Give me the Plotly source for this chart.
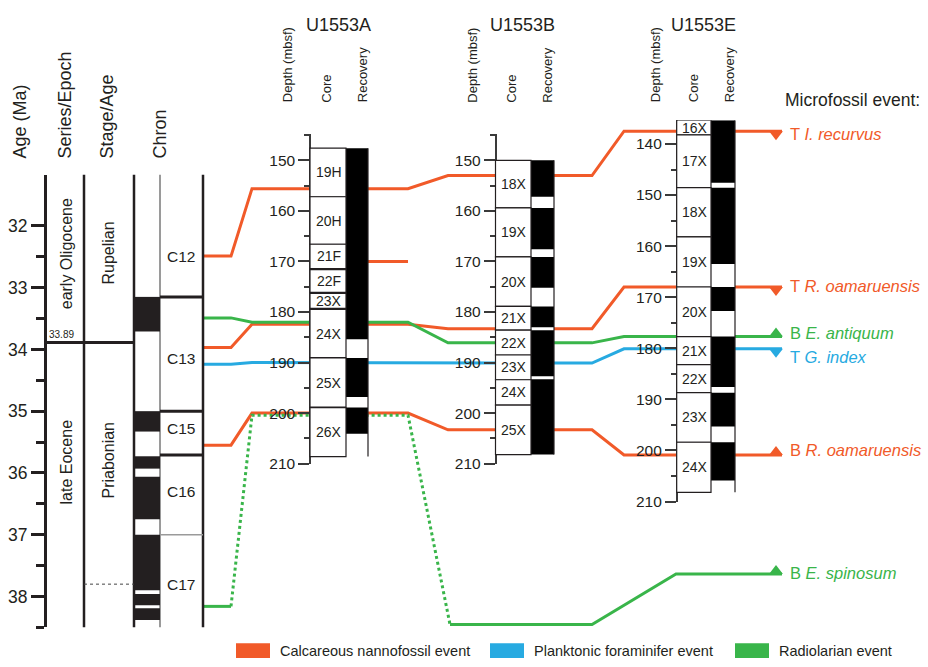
import plotly.graph_objects as go

W, H = 928, 667
FONT = "Liberation Sans, Arial, Helvetica, sans-serif"
INK = "#231F20"

# ---------------- data ----------------
AGE_TICKS = [32, 33, 34, 35, 36, 37, 38]
AGE_MINOR = [32.5, 33.5, 34.5, 35.5, 36.5, 37.5, 38.5]
AGE_TOP, AGE_BASE = 31.17, 38.5

EPOCHS = ["early Oligocene", "late Eocene"]
EPOCH_LABEL_AGE = [32.46, 35.83]
STAGES = ["Rupelian", "Priabonian"]
STAGE_LABEL_AGE = [32.44, 35.79]
EPOCH_BOUNDARY = 33.89
STAGE_SUBDIVISION = 37.8

NORMAL_TOP = [33.15, 35.00, 35.73, 36.06, 37.00, 37.96, 38.19]
NORMAL_BASE = [33.71, 35.33, 35.93, 36.75, 37.90, 38.14, 38.38]

CHRONS = ["C12", "C13", "C15", "C16", "C17"]
CHRON_LABEL_AGE = [32.49, 34.15, 35.28, 36.30, 37.80]
CHRON_BOUNDARIES = [33.15, 35.00, 35.71, 37.00]

HOLES = ["U1553A", "U1553B", "U1553E"]
DEPTH_TOP = {"U1553A": 144.8, "U1553B": 144.8, "U1553E": 135.35}
DEPTH_BASE = 210.0

CORES = {
    "U1553A": ["19H", "20H", "21F", "22F", "23X", "24X", "25X", "26X"],
    "U1553B": ["18X", "19X", "20X", "21X", "22X", "23X", "24X", "25X"],
    "U1553E": ["16X", "17X", "18X", "19X", "20X", "21X", "22X", "23X", "24X"],
}
CORE_TOP = {
    "U1553A": [147.6, 157.2, 166.6, 171.6, 176.3, 179.5, 189.1, 198.9],
    "U1553B": [150.0, 159.4, 169.1, 178.9, 183.6, 188.5, 193.4, 198.4],
    "U1553E": [135.35, 138.2, 148.56, 158.2, 168.0, 177.7, 183.2, 188.7, 198.4],
}
CORE_BASE = {
    "U1553A": [157.2, 166.6, 171.4, 176.1, 179.3, 189.0, 198.8, 208.6],
    "U1553B": [159.4, 169.1, 178.9, 183.6, 188.5, 193.4, 198.4, 208.2],
    "U1553E": [138.2, 148.56, 158.2, 168.0, 177.7, 183.2, 188.7, 198.4, 208.2],
}
RECOVERY_TOP = {
    "U1553A": [147.6, 189.1, 198.9],
    "U1553B": [150.0, 159.4, 169.1, 178.9, 183.6, 193.3],
    "U1553E": [135.35, 148.56, 168.0, 177.7, 188.7, 198.4],
}
RECOVERY_BASE = {
    "U1553A": [185.4, 196.8, 204.1],
    "U1553B": [157.2, 167.6, 175.2, 183.0, 192.7, 208.2],
    "U1553E": [147.6, 163.5, 172.7, 187.6, 195.3, 205.9],
}

EVENTS = ["T <i>I. recurvus</i>", "T <i>R. oamaruensis</i>", "B <i>E. antiquum</i>",
          "T <i>G. index</i>", "B <i>R. oamaruensis</i>", "B <i>E. spinosum</i>"]
EVENT_GROUP = ["nanno", "nanno", "rad", "foram", "nanno", "rad"]
EVENT_KIND = ["T", "T", "B", "T", "B", "B"]
EVENT_AGE = [32.49, 33.97, 33.49, 34.24, 35.55, 38.16]
EVENT_DEPTH_A = [155.6, 182.4, 182.0, 190.0, 200.0, 200.4]
EVENT_DEPTH_B = [153.0, 183.3, 186.1, 190.1, 203.3, 241.8]
EVENT_DEPTH_E = [137.5, 168.0, 177.7, 180.1, 200.9, 224.2]
A_EXTRA_NANNO_DEPTH = 170.0

GROUPS = ["nanno", "foram", "rad"]
GROUP_NAMES = {"nanno": "Calcareous nannofossil event",
               "foram": "Planktonic foraminifer event",
               "rad": "Radiolarian event"}

# ---------------- styling / layout geometry (pixels) ----------------
GROUP_COLORS = {"nanno": "#F15A29", "foram": "#27AAE1", "rad": "#39B54A"}
AGE_PX = (176.7, 635.0)
AGE_AXIS_X = 45
EPOCH_COL = (45, 84)
STAGE_COL = (84, 134)
POL_COL = (134, 160)
CHRON_COL = (160, 203)

HOLE_GEOM = {
    "U1553A": dict(px=(135.7, 469.3), core=(310, 346), rec=(346, 368),
                   title_x=338, head_x=(287, 327, 362), yaxis="y3"),
    "U1553B": dict(px=(135.7, 469.3), core=(495.5, 531), rec=(531, 554),
                   title_x=522.5, head_x=(472.5, 512, 547.5), yaxis="y4"),
    "U1553E": dict(px=(121.7, 507.6), core=(676.7, 711), rec=(711, 735),
                   title_x=703, head_x=(655, 693.5, 729), yaxis="y5"),
}
LINE_X = [203, 231, 252, 408, 448, 592, 624, 782]
SPINOSUM_X = [203, 231, 252, 408, 450, 592, 676, 782]
LABEL_DY = [2.5, -1.5, -3.5, 8.5, -5.5, -1.5]
MARKER_X = 776


def lin(v, v0, v1, p0, p1):
    return p0 + (v - v0) * (p1 - p0) / (v1 - v0)


def age_px(a):
    return lin(a, AGE_TOP, AGE_BASE, *AGE_PX)


def depth_px(hole, d):
    return lin(d, DEPTH_TOP[hole], DEPTH_BASE, *HOLE_GEOM[hole]["px"])


def domain(px):
    return [1 - px[1] / H, 1 - px[0] / H]


fig = go.Figure()
shapes = []
ann = []

# ---- correlation lines (pixel overlay subplot x/y) ----
for i, name in enumerate(EVENTS):
    col = GROUP_COLORS[EVENT_GROUP[i]]
    ys = [age_px(EVENT_AGE[i])] * 2 + \
         [depth_px("U1553A", EVENT_DEPTH_A[i])] * 2 + \
         [depth_px("U1553B", EVENT_DEPTH_B[i])] * 2 + \
         [depth_px("U1553E", EVENT_DEPTH_E[i])] * 2
    if i == 5:
        xs = SPINOSUM_X
        parts = [((0, 2), "solid"), ((1, 5), "dot"), ((4, 8), "solid")]
    else:
        xs = LINE_X
        parts = [((0, 8), "solid")]
    for (a, b), dash in parts:
        fig.add_trace(go.Scatter(x=xs[a:b], y=ys[a:b], mode="lines",
                                 line=dict(color=col, width=3, dash=dash),
                                 hoverinfo="skip", showlegend=False))
    yl = ys[-1]
    my = yl + 3 if EVENT_KIND[i] == "T" else yl - 3
    sym = "triangle-down" if EVENT_KIND[i] == "T" else "triangle-up"
    fig.add_trace(go.Scatter(x=[MARKER_X], y=[my], mode="markers",
                             marker=dict(symbol=sym, size=12, color=col, line=dict(width=0)),
                             hoverinfo="skip", showlegend=False))
    ann.append(dict(x=788, y=yl + LABEL_DY[i], xref="x", yref="y", text=name,
                    showarrow=False, xanchor="left", yanchor="middle",
                    font=dict(family=FONT, size=16.5, color=col)))

ya = depth_px("U1553A", A_EXTRA_NANNO_DEPTH)
fig.add_trace(go.Scatter(x=[HOLE_GEOM["U1553A"]["rec"][1], LINE_X[3]], y=[ya, ya], mode="lines",
                         line=dict(color=GROUP_COLORS["nanno"], width=3),
                         hoverinfo="skip", showlegend=False))

# invisible anchors so every axis gets its own subplot
for ax, yv in [("y2", AGE_TOP + 1), ("y3", 180), ("y4", 180), ("y5", 180)]:
    fig.add_trace(go.Scatter(x=[0], y=[yv], yaxis=ax, mode="markers",
                             marker=dict(opacity=0), hoverinfo="skip", showlegend=False))

# ---- age / stratigraphy columns ----
for x in [STAGE_COL[0], POL_COL[0], CHRON_COL[1]]:
    shapes.append(dict(type="line", xref="x", yref="y2", x0=x, x1=x, y0=AGE_TOP, y1=AGE_BASE,
                       line=dict(color=INK, width=2.5)))
shapes.append(dict(type="line", xref="x", yref="y2", x0=CHRON_COL[0], x1=CHRON_COL[0],
                   y0=AGE_TOP, y1=AGE_BASE, line=dict(color="#9a9a9a", width=2)))
for t, b in zip(NORMAL_TOP, NORMAL_BASE):
    shapes.append(dict(type="rect", xref="x", yref="y2", x0=POL_COL[0], x1=POL_COL[1], y0=t, y1=b,
                       fillcolor=INK, line=dict(width=0)))
shapes.append(dict(type="line", xref="x", yref="y2", x0=EPOCH_COL[0], x1=STAGE_COL[1],
                   y0=EPOCH_BOUNDARY, y1=EPOCH_BOUNDARY, line=dict(color=INK, width=3)))
shapes.append(dict(type="line", xref="x", yref="y2", x0=STAGE_COL[0], x1=STAGE_COL[1],
                   y0=STAGE_SUBDIVISION, y1=STAGE_SUBDIVISION,
                   line=dict(color="#444", width=1, dash="3px,3px")))
for i, b in enumerate(CHRON_BOUNDARIES):
    last = i == len(CHRON_BOUNDARIES) - 1
    shapes.append(dict(type="line", xref="x", yref="y2", x0=CHRON_COL[0], x1=CHRON_COL[1], y0=b, y1=b,
                       line=dict(color="#9a9a9a" if last else INK, width=1.5 if last else 3)))

ann.append(dict(x=61.5, y=EPOCH_BOUNDARY, xref="x", yref="y2", text="33.89", showarrow=False,
                xanchor="center", yanchor="bottom", yshift=1, font=dict(family=FONT, size=10, color=INK)))
for txt, a in zip(EPOCHS, EPOCH_LABEL_AGE):
    ann.append(dict(x=66, y=a, xref="x", yref="y2", text=txt, textangle=-90, showarrow=False,
                    xanchor="center", yanchor="middle", font=dict(family=FONT, size=16, color=INK)))
for txt, a in zip(STAGES, STAGE_LABEL_AGE):
    ann.append(dict(x=108.5, y=a, xref="x", yref="y2", text=txt, textangle=-90, showarrow=False,
                    xanchor="center", yanchor="middle", font=dict(family=FONT, size=16, color=INK)))
for txt, a in zip(CHRONS, CHRON_LABEL_AGE):
    ann.append(dict(x=181, y=a, xref="x", yref="y2", text=txt, showarrow=False,
                    font=dict(family=FONT, size=15.5, color=INK)))

for txt, x in [("Age (Ma)", 20.5), ("Series/Epoch", 65), ("Stage/Age", 107.5), ("Chron", 160)]:
    ann.append(dict(x=x, y=163, xref="x", yref="y", text=txt, textangle=-90, showarrow=False,
                    xanchor="center", yanchor="bottom", font=dict(family=FONT, size=18, color=INK)))

# ---- drill holes ----
for hole in HOLES:
    g = HOLE_GEOM[hole]
    yr = g["yaxis"]
    cx0, cx1 = g["core"]
    rx0, rx1 = g["rec"]
    top, base = CORE_TOP[hole][0], CORE_BASE[hole][-1]
    shapes.append(dict(type="rect", xref="x", yref=yr, x0=rx0, x1=rx1, y0=top, y1=base,
                       fillcolor="white", line=dict(width=0), layer="above"))
    for t, b in zip(RECOVERY_TOP[hole], RECOVERY_BASE[hole]):
        shapes.append(dict(type="rect", xref="x", yref=yr, x0=rx0, x1=rx1, y0=t, y1=b,
                           fillcolor="black", line=dict(width=0), layer="above"))
    shapes.append(dict(type="line", xref="x", yref=yr, x0=rx1, x1=rx1, y0=top, y1=base,
                       line=dict(color=INK, width=1.2), layer="above"))
    for name, t, b in zip(CORES[hole], CORE_TOP[hole], CORE_BASE[hole]):
        shapes.append(dict(type="rect", xref="x", yref=yr, x0=cx0, x1=cx1, y0=t, y1=b,
                           fillcolor="white", line=dict(color=INK, width=1.2), layer="above"))
        ann.append(dict(x=(cx0 + cx1) / 2 + 1, y=(t + b) / 2, xref="x", yref=yr, text=name,
                        showarrow=False, font=dict(family=FONT, size=14, color=INK)))
    ann.append(dict(x=g["title_x"], y=25, xref="x", yref="y", text=hole, showarrow=False,
                    font=dict(family=FONT, size=18, color=INK)))
    for txt, x in zip(["Depth (mbsf)", "Core", "Recovery"], g["head_x"]):
        ann.append(dict(x=x, y=106, xref="x", yref="y", text=txt, textangle=-90, showarrow=False,
                        xanchor="center", yanchor="bottom", font=dict(family=FONT, size=13, color=INK)))

ann.append(dict(x=783, y=101.5, xref="x", yref="y", text="Microfossil event:", showarrow=False,
                xanchor="left", font=dict(family=FONT, size=17.5, color=INK)))

# ---- legend ----
leg_x = {"nanno": 236, "foram": 490, "rad": 735}
for grp in GROUPS:
    x0 = leg_x[grp]
    shapes.append(dict(type="rect", xref="x", yref="y", x0=x0, x1=x0 + 34, y0=651, y1=666,
                       fillcolor=GROUP_COLORS[grp], line=dict(width=0)))
    ann.append(dict(x=x0 + 42, y=658.5, xref="x", yref="y", text=GROUP_NAMES[grp], showarrow=False,
                    xanchor="left", font=dict(family=FONT, size=14.5, color=INK)))

# ---- axes ----
depth_axis_common = dict(anchor="free", side="left", showline=True, linecolor="#3a3a3a", linewidth=1.5,
                         ticks="outside", ticklen=11, tickwidth=1.5, tickcolor="#3a3a3a",
                         tick0=0, dtick=10, showgrid=False, zeroline=False,
                         tickfont=dict(family=FONT, size=15.5, color=INK),
                         minor=dict(ticks="outside", tick0=0, dtick=5, ticklen=5, tickwidth=1.5,
                                    tickcolor="#3a3a3a"))

layout_axes = dict(
    xaxis=dict(range=[0, W], domain=[0, 1], visible=False, fixedrange=True, anchor="y"),
    yaxis=dict(range=[H, 0], domain=[0, 1], visible=False, fixedrange=True),
    yaxis2=dict(domain=domain(AGE_PX), range=[AGE_BASE, AGE_TOP], anchor="free",
                position=AGE_AXIS_X / W, side="left", showline=True, linecolor=INK, linewidth=3,
                ticks="outside", ticklen=13, tickwidth=3, tickcolor=INK,
                tickmode="array", tickvals=AGE_TICKS, ticktext=[str(t) for t in AGE_TICKS],
                tickfont=dict(family=FONT, size=17.5, color=INK),
                minor=dict(tickmode="array", tickvals=AGE_MINOR, ticks="outside", ticklen=8,
                           tickwidth=3, tickcolor=INK),
                showgrid=False, zeroline=False),
)
for hole in HOLES:
    g = HOLE_GEOM[hole]
    key = "yaxis" + g["yaxis"][1:]
    d = dict(depth_axis_common)
    d.update(domain=domain(g["px"]), range=[DEPTH_BASE, DEPTH_TOP[hole]],
             position=g["core"][0] / W)
    layout_axes[key] = d

fig.update_layout(
    width=W, height=H, margin=dict(l=0, r=0, t=0, b=0),
    paper_bgcolor="white", plot_bgcolor="rgba(0,0,0,0)",
    showlegend=False, shapes=shapes, annotations=ann,
    font=dict(family=FONT, color=INK),
    **layout_axes,
)

fig.write_html("out.html")
